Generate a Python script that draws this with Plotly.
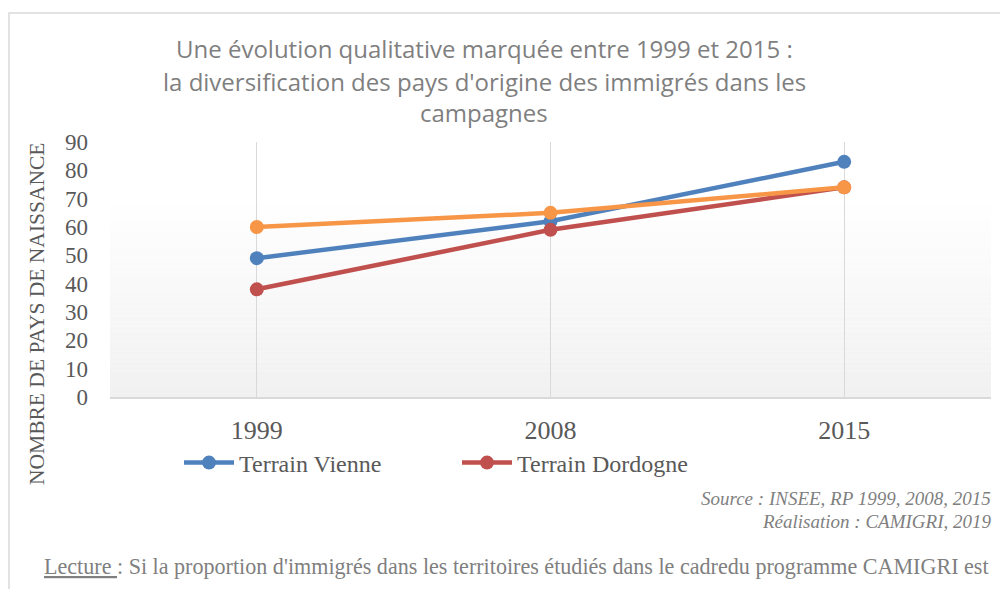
import plotly.graph_objects as go
import numpy as np

# ---- data ----
years = ["1999", "2008", "2015"]
vienne = [49, 62, 83]
dordogne = [38, 59, 74]
ensemble = [60, 65, 74]
y_ticks = [0, 10, 20, 30, 40, 50, 60, 70, 80, 90]

title_lines = [
    "Une évolution qualitative marquée entre 1999 et 2015 :",
    "la diversification des pays d'origine des immigrés dans les",
    "campagnes",
]
y_title = "NOMBRE DE PAYS DE NAISSANCE"
source_lines = ["Source : INSEE, RP 1999, 2008, 2015", "Réalisation : CAMIGRI, 2019"]
lecture = "<u>Lecture </u>: Si la proportion d'immigrés dans les territoires étudiés dans le cadredu programme CAMIGRI est"

# page has an 8px body margin: figure starts at page (8, 8)
OFF = 8
W, H = 1008 - 2 * OFF, 597 - 2 * OFF
PL, PR, PT, PB = 110, 991, 142, 397          # plot area in page pixels
L, T = PL - OFF, PT - OFF
R, B = W - (PR - OFF), H - (PB - OFF)
pw, ph = PR - PL, PB - PT


def px(x):
    return (x - PL) / pw


def py(y):
    return (PB - y) / ph


SERIF = "Liberation Serif"
GREY = "#595959"

fig = go.Figure()
series = [
    ("Terrain Vienne", vienne, "#4f81bd", True),
    ("Terrain Dordogne", dordogne, "#c0504d", True),
    ("Ensemble", ensemble, "#f79646", False),
]
for name, vals, col, show in series:
    fig.add_trace(go.Scatter(
        x=years, y=vals, name=name, mode="lines+markers",
        line=dict(color=col, width=4.5),
        marker=dict(color=col, size=14),
        showlegend=show,
    ))

shapes = []
# gradient background in the lower part of the plot area
edges = np.linspace(0, 71, 41)
for i in range(40):
    t = i / 39
    c = int(round(241 + (255 - 241) * t))
    shapes.append(dict(type="rect", xref="x domain", yref="y", x0=0, x1=1,
                       y0=edges[i], y1=edges[i + 1], fillcolor=f"rgb({c},{c},{c})",
                       line=dict(width=0), layer="below"))
# outer chart border
shapes.append(dict(type="rect", xref="paper", yref="paper",
                   x0=px(9), x1=px(1030), y0=py(13), y1=py(620),
                   line=dict(color="#d9d9d9", width=1.5), fillcolor="rgba(0,0,0,0)"))

annotations = []
for txt, yy in zip(title_lines, [48, 81, 112]):
    annotations.append(dict(text=txt, xref="paper", yref="paper", x=px(484), y=py(yy),
                            xanchor="center", yanchor="middle", showarrow=False,
                            font=dict(family="Open Sans", size=24, color="#7f7f7f")))
annotations.append(dict(text=y_title, xref="paper", yref="paper", x=px(37), y=py(314),
                        xanchor="center", yanchor="middle", textangle=-90, showarrow=False,
                        font=dict(family=SERIF, size=21.5, color=GREY)))
for txt, yy in zip(source_lines, [498, 521]):
    annotations.append(dict(text=f"<i>{txt}</i>", xref="paper", yref="paper", x=px(993), y=py(yy),
                            xanchor="right", yanchor="middle", showarrow=False,
                            font=dict(family=SERIF, size=19, color="#7f7f7f")))
annotations.append(dict(text=lecture, xref="paper", yref="paper", x=px(42), y=py(566),
                        xanchor="left", yanchor="middle", showarrow=False,
                        font=dict(family=SERIF, size=22.1, color="#7f7f7f")))

fig.update_layout(
    width=W, height=H,
    margin=dict(l=L, r=R, t=T, b=B, pad=0),
    paper_bgcolor="white", plot_bgcolor="white",
    shapes=shapes, annotations=annotations,
    showlegend=True,
    legend=dict(orientation="h", x=px(179), y=py(463), xanchor="left", yanchor="middle",
                font=dict(family=SERIF, size=24, color=GREY),
                entrywidth=213, entrywidthmode="pixels", bgcolor="rgba(0,0,0,0)",
                itemwidth=50),
)
fig.update_xaxes(
    type="category", range=[-0.5, 2.5], showgrid=True, gridcolor="#d9d9d9", gridwidth=1,
    showline=True, linecolor="#d9d9d9", linewidth=2, ticks="", zeroline=False,
    tickfont=dict(family=SERIF, size=26, color=GREY), ticklabelstandoff=9,
)
fig.update_yaxes(
    range=[0, 90], tickvals=y_ticks, showgrid=False, zeroline=False, showline=False,
    tickfont=dict(family=SERIF, size=23, color=GREY), ticklabelstandoff=21,
)

fig.write_html("out.html")
